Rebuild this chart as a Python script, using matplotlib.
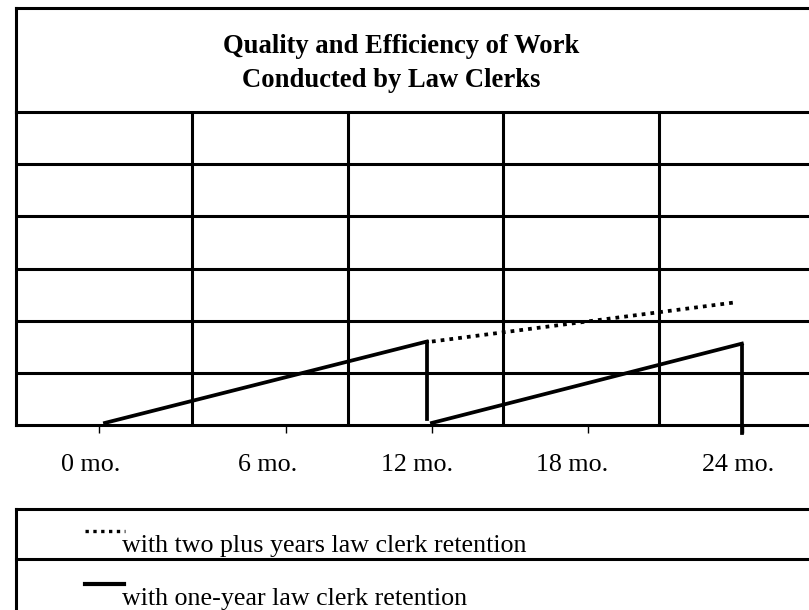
import matplotlib
matplotlib.use('Agg')
import matplotlib.pyplot as plt

# Datos (eje x en meses, eje y en unidades de la rejilla)
meses_un_anio_1 = [0, 12.13]
nivel_un_anio_1 = [0.04, 1.6]
meses_caida_1 = [12.13, 12.13]
nivel_caida_1 = [1.6, 0.12]
meses_un_anio_2 = [12.32, 24.0]
nivel_un_anio_2 = [0.04, 1.56]
meses_caida_2 = [24.02, 24.02]
nivel_caida_2 = [1.52, -0.15]
meses_dos_anios = [12.32, 23.74]
nivel_dos_anios = [1.6, 2.35]

etiquetas_x = ['0 mo.', '6 mo.', '12 mo.', '18 mo.', '24 mo.']
pos_etiquetas = [-0.55, 6.14, 11.76, 17.6, 23.85]
pos_marcas = [-0.23, 6.82, 12.32, 18.2, 24.04]
rejilla_x = [3.28, 9.16, 15.0, 20.87]
rejilla_y = [1, 2, 3, 4, 5]

titulo_1 = 'Quality and Efficiency of Work'
titulo_2 = 'Conducted by Law Clerks'
leyenda_dos = 'with two plus years law clerk retention'
leyenda_uno = 'with one-year law clerk retention'

fuente = 'Liberation Serif'
tam = 18.7
tam_titulo = 19.2
grosor = 2.2
grosor_datos = 2.7
punteado = (0, (1.0, 1.35))

fig = plt.figure(figsize=(8.09, 6.10), dpi=100)

# Zona del gráfico
ax = fig.add_axes([16 / 809, 185 / 610, 814 / 809, 313 / 610])
ax.set_xlim(-3.353, 27.32)
ax.set_ylim(0, 6)
for lado in ['left', 'top', 'bottom']:
    ax.spines[lado].set_linewidth(grosor)
ax.spines['right'].set_visible(False)

for y in rejilla_y:
    ax.axhline(y, color='black', lw=grosor, zorder=1)
for x in rejilla_x:
    ax.axvline(x, color='black', lw=grosor, zorder=1)

ax.plot(meses_un_anio_1, nivel_un_anio_1, color='black', lw=grosor_datos, zorder=3)
ax.plot(meses_caida_1, nivel_caida_1, color='black', lw=grosor_datos, zorder=3)
ax.plot(meses_un_anio_2, nivel_un_anio_2, color='black', lw=grosor_datos, zorder=3)
ax.plot(meses_caida_2, nivel_caida_2, color='black', lw=grosor_datos, zorder=3, clip_on=False)
ax.plot(meses_dos_anios, nivel_dos_anios, color='black', lw=grosor_datos, ls=punteado,
        dash_capstyle='butt', zorder=3)

ax.set_yticks([])
ax.set_xticks(pos_marcas)
ax.set_xticklabels([])
ax.tick_params(axis='x', direction='out', length=5.8, width=1.0)

for x, texto in zip(pos_etiquetas, etiquetas_x):
    ax.text(x, -0.885, texto, ha='center', va='baseline', family=fuente,
            fontsize=tam, clip_on=False)

# Capa de marcos, título y leyenda (coordenadas en píxeles)
capa = fig.add_axes([0, 0, 1, 1], zorder=-1)
capa.set_xlim(0, 809)
capa.set_ylim(610, 0)
capa.axis('off')

capa.plot([16, 820], [8, 8], color='black', lw=grosor, solid_capstyle='projecting')
capa.plot([16, 16], [8, 112], color='black', lw=grosor, solid_capstyle='projecting')
capa.plot([16, 820], [509, 509], color='black', lw=grosor, solid_capstyle='projecting')
capa.plot([16, 820], [559, 559], color='black', lw=grosor)
capa.plot([16, 16], [509, 620], color='black', lw=grosor, solid_capstyle='projecting')

capa.text(401.5, 53, titulo_1, ha='center', va='baseline', family=fuente,
          fontsize=tam_titulo, fontweight='bold')
capa.text(391, 87, titulo_2, ha='center', va='baseline', family=fuente,
          fontsize=tam_titulo, fontweight='bold')

capa.plot([85, 125], [531, 531], color='black', lw=2.4, ls=punteado, dash_capstyle='butt')
capa.plot([85, 124], [584, 584], color='black', lw=3.0)
capa.text(122, 552, leyenda_dos, ha='left', va='baseline', family=fuente, fontsize=tam)
capa.text(122, 605, leyenda_uno, ha='left', va='baseline', family=fuente, fontsize=tam)

fig.savefig('out.png', dpi=100)
